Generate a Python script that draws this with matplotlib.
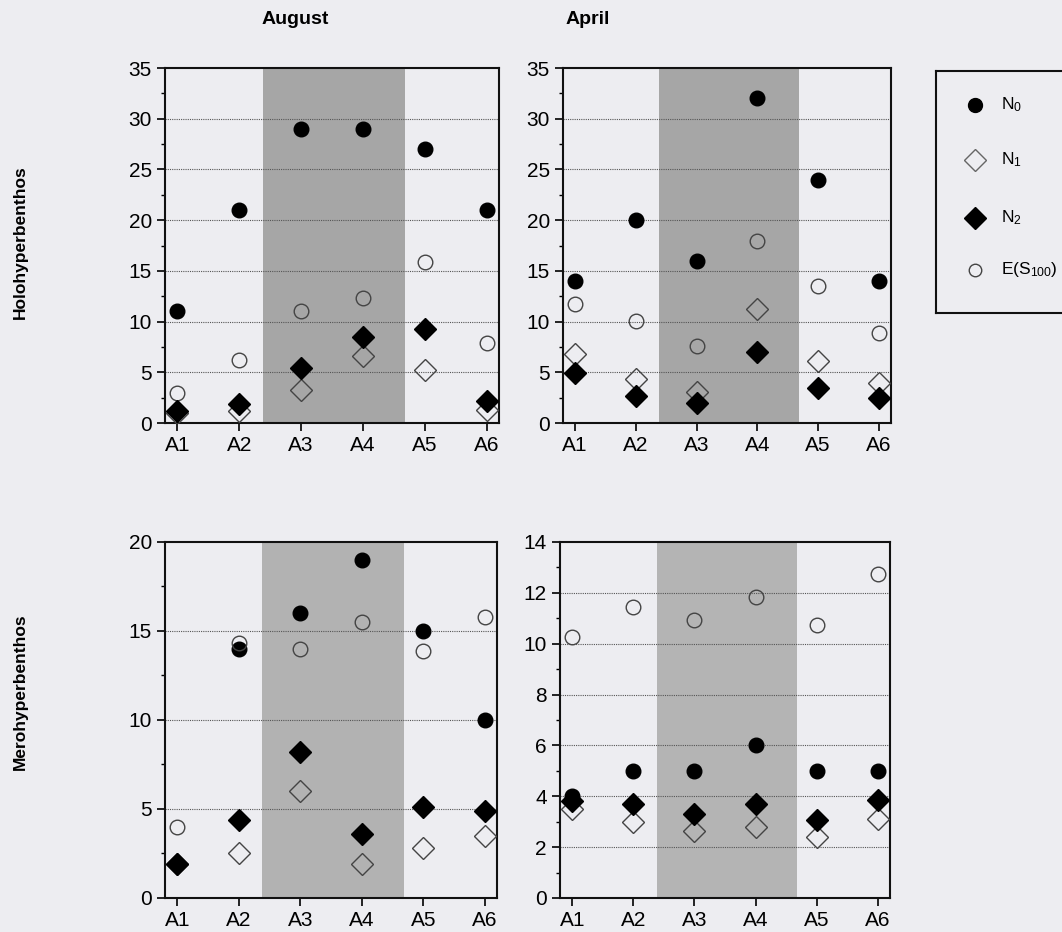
import matplotlib
matplotlib.use('Agg')
import matplotlib.pyplot as plt
from matplotlib.ticker import MultipleLocator

plt.rcParams['font.family'] = ['Liberation Sans', 'DejaVu Sans']
plt.rcParams['mathtext.default'] = 'regular'

sites = ['A1', 'A2', 'A3', 'A4', 'A5', 'A6']

# Holohyperbenthos, August
aug_holo_n0 = [11, 21, 29, 29, 27, 21]
aug_holo_n1 = [1.0, 1.2, 3.3, 6.6, 5.2, 1.3]
aug_holo_n2 = [1.15, 1.9, 5.4, 8.5, 9.3, 2.2]
aug_holo_es = [3.0, 6.2, 11.0, 12.3, 15.9, 7.9]

# Holohyperbenthos, April
apr_holo_n0 = [14, 20, 16, 32, 24, 14]
apr_holo_n1 = [6.8, 4.3, 3.1, 11.2, 6.1, 3.9]
apr_holo_n2 = [4.9, 2.7, 2.0, 7.0, 3.5, 2.5]
apr_holo_es = [11.7, 10.1, 7.6, 17.9, 13.5, 8.9]

# Merohyperbenthos, August
aug_mero_n0 = [1.9, 14, 16, 19, 15, 10]
aug_mero_n1 = [1.9, 2.5, 6.0, 1.9, 2.8, 3.5]
aug_mero_n2 = [1.9, 4.4, 8.2, 3.6, 5.1, 4.9]
aug_mero_es = [4.0, 14.3, 14.0, 15.5, 13.9, 15.8]

# Merohyperbenthos, April
apr_mero_n0 = [4, 5, 5, 6, 5, 5]
apr_mero_n1 = [3.5, 3.0, 2.65, 2.8, 2.4, 3.1]
apr_mero_n2 = [3.8, 3.7, 3.3, 3.7, 3.05, 3.85]
apr_mero_es = [10.25, 11.45, 10.95, 11.85, 10.75, 12.75]

BG = '#ededf1'


def draw_panel(ax, n0, n1, n2, es, ymax, major, minor, shade):
    x = list(range(1, len(sites) + 1))
    ax.set_facecolor(BG)
    ax.axvspan(2.38, 4.68, color=shade, zorder=0, lw=0)
    for v in range(major, ymax, major):
        ax.axhline(v, color='#555555', ls=(0, (1, 1)), lw=0.8, zorder=1)
    ax.plot(x, n0, 'o', ms=10.5, color='black', ls='none', zorder=3)
    ax.plot(x, n1, 'D', ms=11.5, mfc='none', mec='#444444', mew=1.0, ls='none', zorder=3)
    ax.plot(x, n2, 'D', ms=11.5, color='black', ls='none', zorder=4)
    ax.plot(x, es, 'o', ms=10.5, mfc='none', mec='#444444', mew=1.0, ls='none', zorder=3)
    ax.set_xlim(0.8, 6.2)
    ax.set_ylim(0, ymax)
    ax.set_xticks(x)
    ax.set_xticklabels(sites)
    ax.yaxis.set_major_locator(MultipleLocator(major))
    ax.yaxis.set_minor_locator(MultipleLocator(minor))
    ax.tick_params(axis='both', which='major', labelsize=15, length=6, width=1.2, direction='out')
    ax.tick_params(axis='y', which='minor', length=3, width=1.0, direction='out')
    for s in ax.spines.values():
        s.set_linewidth(1.5)
        s.set_color('#111111')


fig = plt.figure(figsize=(10.62, 9.32), dpi=100, facecolor=BG)

ax1 = fig.add_axes([0.1554, 0.5461, 0.3145, 0.3809])
ax2 = fig.add_axes([0.5301, 0.5461, 0.3089, 0.3809])
ax3 = fig.add_axes([0.1554, 0.0365, 0.3126, 0.3820])
ax4 = fig.add_axes([0.5273, 0.0365, 0.3107, 0.3820])

draw_panel(ax1, aug_holo_n0, aug_holo_n1, aug_holo_n2, aug_holo_es, 35, 5, 2.5, '#a6a6a6')
draw_panel(ax2, apr_holo_n0, apr_holo_n1, apr_holo_n2, apr_holo_es, 35, 5, 2.5, '#a6a6a6')
draw_panel(ax3, aug_mero_n0, aug_mero_n1, aug_mero_n2, aug_mero_es, 20, 5, 2.5, '#b2b2b2')
draw_panel(ax4, apr_mero_n0, apr_mero_n1, apr_mero_n2, apr_mero_es, 14, 2, 1, '#b4b4b4')

fig.text(295 / 1062, 1 - 20 / 932, 'August', ha='center', va='center', fontsize=14, fontweight='bold')
fig.text(588 / 1062, 1 - 20 / 932, 'April', ha='center', va='center', fontsize=14, fontweight='bold')
fig.text(20 / 1062, 1 - 242 / 932, 'Holohyperbenthos', rotation=90, ha='center', va='center',
         fontsize=12.5, fontweight='bold')
fig.text(20 / 1062, 1 - 692 / 932, 'Merohyperbenthos', rotation=90, ha='center', va='center',
         fontsize=12.5, fontweight='bold')

# legend box
lax = fig.add_axes([0.8814, 0.6642, 0.125, 0.2597])
lax.set_facecolor(BG)
lax.set_xlim(0, 1)
lax.set_ylim(0, 1)
lax.set_xticks([])
lax.set_yticks([])
for s in lax.spines.values():
    s.set_linewidth(1.5)
    s.set_color('#111111')
lab_y = [0.86, 0.632, 0.393, 0.178]
lax.plot(0.29, lab_y[0], 'o', ms=10, color='black')
lax.plot(0.29, lab_y[1], 'D', ms=11, mfc='none', mec='#666666', mew=1.0)
lax.plot(0.29, lab_y[2], 'D', ms=11, color='black')
lax.plot(0.29, lab_y[3], 'o', ms=9, mfc='none', mec='#444444', mew=1.0)
names = [r'N$_0$', r'N$_1$', r'N$_2$', r'E(S$_{100}$)']
for yy, nm in zip(lab_y, names):
    lax.text(0.49, yy, nm, ha='left', va='center', fontsize=12.5)

fig.savefig('out.png', dpi=100, facecolor=BG)
